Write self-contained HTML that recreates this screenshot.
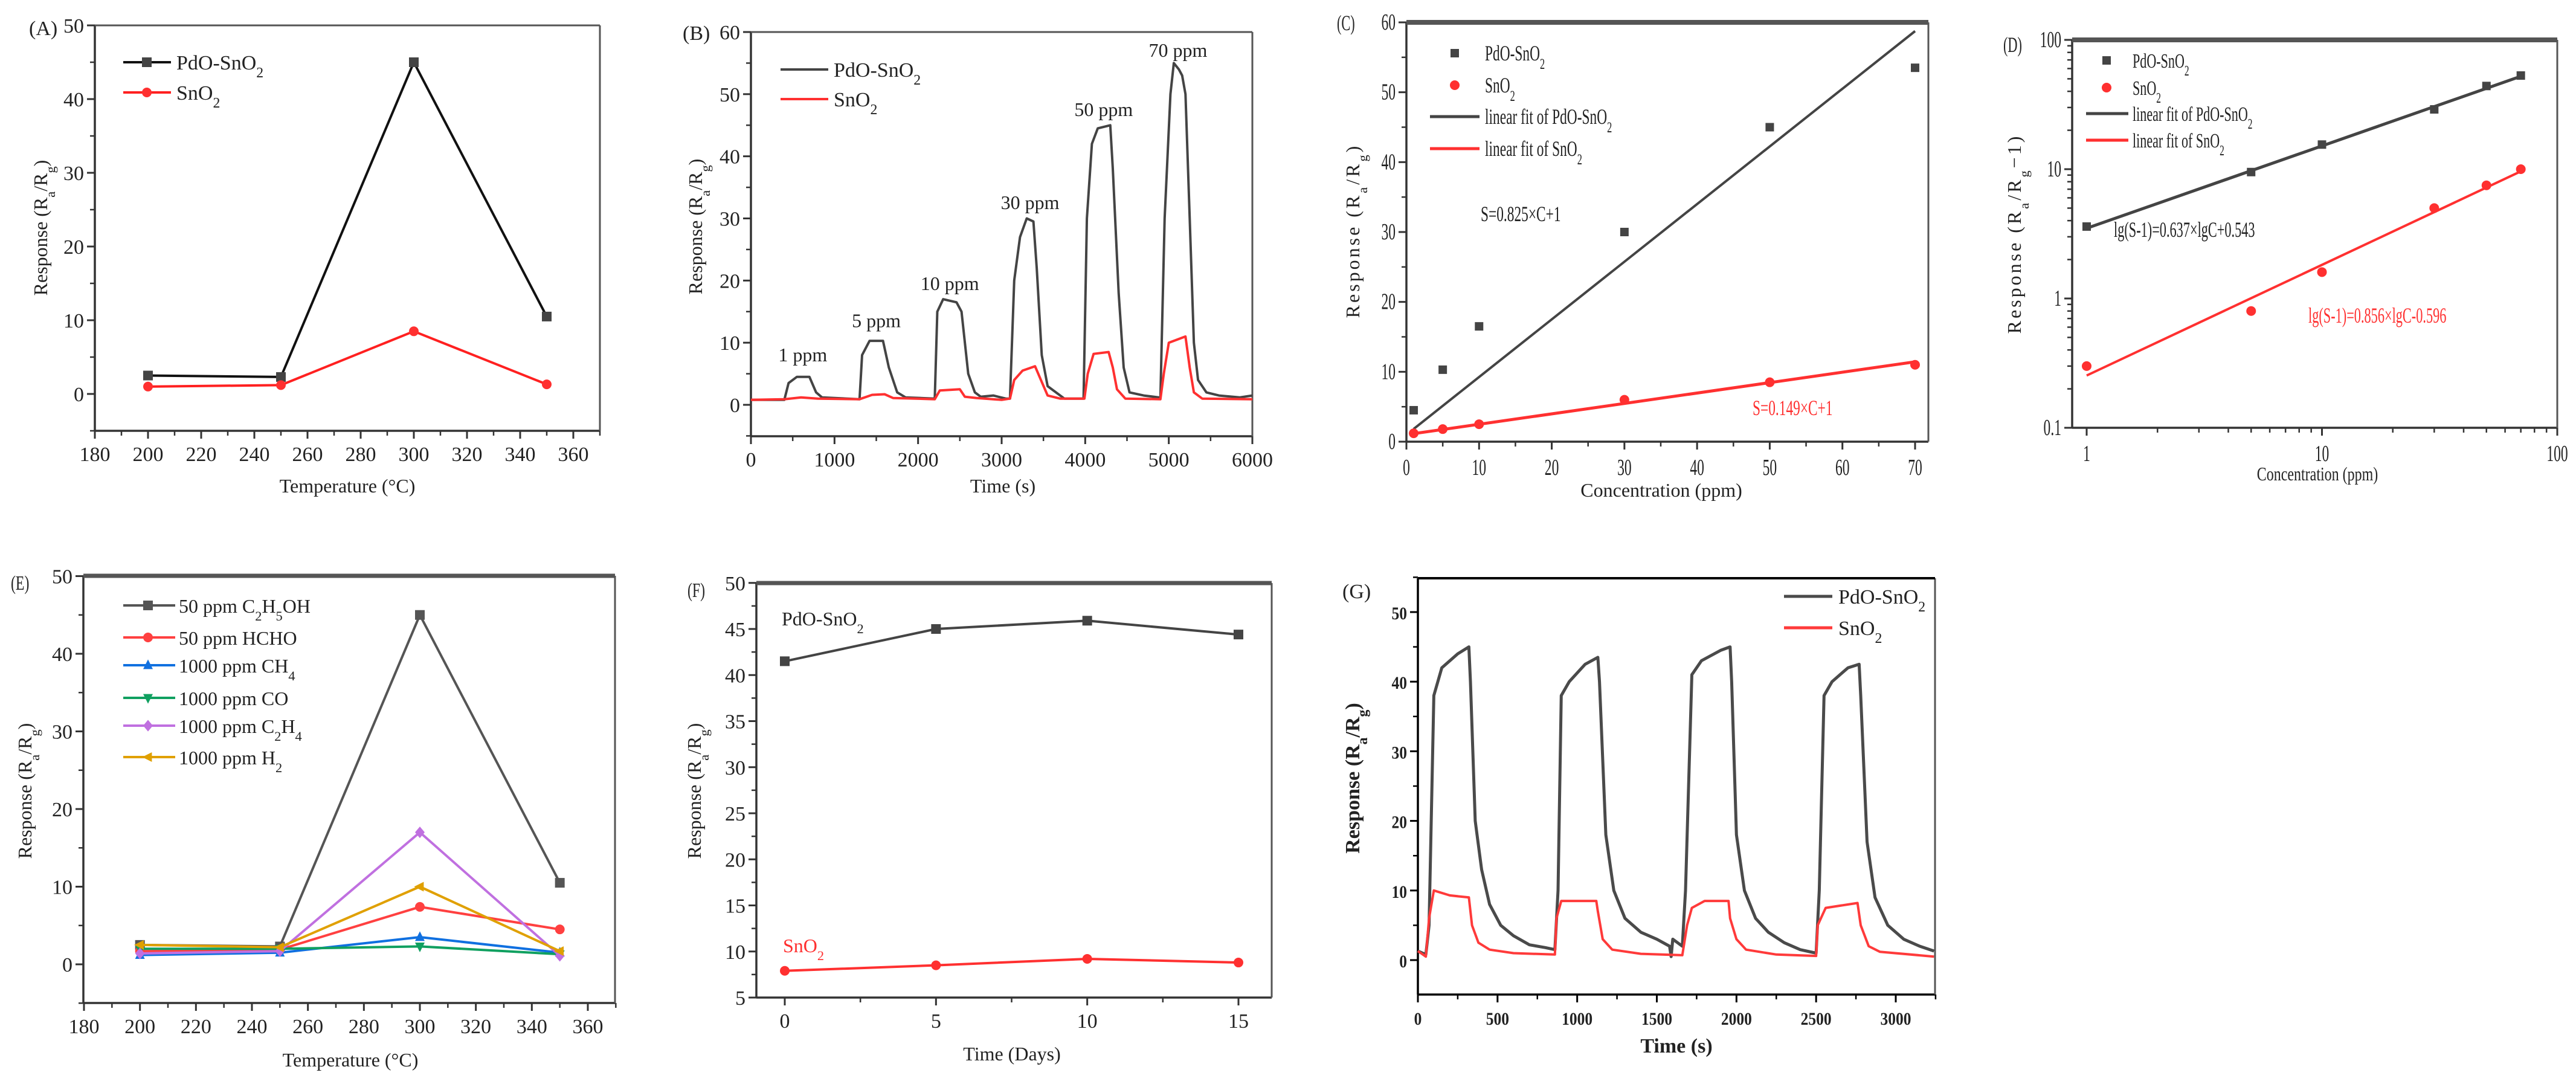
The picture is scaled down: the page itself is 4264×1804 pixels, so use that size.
<!DOCTYPE html>
<html><head><meta charset="utf-8"><style>
html,body{margin:0;padding:0;background:#fff;}
svg{display:block;font-family:"Liberation Serif",serif;}
</style></head><body>
<svg id="fig" xmlns="http://www.w3.org/2000/svg" width="4264" height="1804" viewBox="0 0 4264 1804"></svg>
<script>
// ---------- DATA ----------
const aTemps=[200,250,300,350];
const aPdO=[2.5,2.3,45,10.5];
const aSnO2=[1.0,1.2,8.5,1.3];
const aXTicks=[180,200,220,240,260,280,300,320,340,360];
const aYTicks=[0,10,20,30,40,50];

const bPdOTime=[0,400,450,550,700,780,850,1300,1330,1420,1580,1650,1750,1850,2200,2230,2300,2460,2520,2600,2680,2750,2900,3050,3100,3150,3220,3300,3380,3420,3480,3550,3650,3750,3980,4020,4080,4150,4300,4330,4400,4460,4530,4700,4880,4900,4950,5020,5060,5120,5160,5200,5250,5300,5350,5450,5600,5850,6000];
const bPdOVal=[0.8,0.8,3.5,4.5,4.5,2,1.2,0.9,8,10.3,10.3,6,2,1.2,1,15,17,16.5,15,5,2,1.3,1.5,1,1,20,27,30,29.5,22,8,3,2,1,1,30,42,44.5,45,38,18,6,2,1.5,1.2,1.2,30,50,55,54,53,50,30,10,4,2,1.5,1.2,1.5];
const bSnTime=[0,400,600,800,1300,1450,1600,1700,2200,2260,2500,2560,2700,3000,3100,3150,3250,3400,3470,3550,3700,3990,4030,4100,4280,4330,4380,4480,4900,4940,5000,5200,5250,5300,5400,6000];
const bSnVal=[0.8,0.9,1.2,1,0.9,1.6,1.7,1.1,0.9,2.3,2.5,1.3,1.1,0.8,1,4,5.5,6.2,4,1.5,1,1,5,8.2,8.5,6,2.5,1,0.9,5,10,11,6,2,1,0.9];
const bLabelTime=[620,1500,2380,3340,4220,5110];
const bLabelVal=[7,12.5,18.5,31.5,46.5,56];
const bLabels=["1 ppm","5 ppm","10 ppm","30 ppm","50 ppm","70 ppm"];
const bXTicks=[0,1000,2000,3000,4000,5000,6000];
const bYTicks=[0,10,20,30,40,50,60];

const cConc=[1,5,10,30,50,70];
const cPdO=[4.5,10.3,16.5,30,45,53.5];
const cSnO2=[1.2,1.8,2.5,6,8.5,11];
const cFitPdO=[0.825,1];
const cFitSnO2=[0.149,1];
const cXTicks=[0,10,20,30,40,50,60,70];
const cYTicks=[0,10,20,30,40,50,60];

const dConc=[1,5,10,30,50,70];
const dPdO=[3.6,9.5,15.5,29,44,53];
const dSnO2=[0.3,0.8,1.6,5,7.5,10];
const dFitPdO=[0.637,0.543];
const dFitSnO2=[0.856,-0.596];
const dXTicks=[1,10,100];
const dYTicks=[0.1,1,10,100];

const eTemps=[200,250,300,350];
const eEthanol=[2.5,2.3,45,10.5];
const eHCHO=[1.7,1.9,7.4,4.5];
const eCH4=[1.2,1.5,3.5,1.5];
const eCO=[2.0,2.0,2.3,1.3];
const eC2H4=[1.4,1.7,17,1.1];
const eH2=[2.5,2.2,10,1.7];
const eXTicks=[180,200,220,240,260,280,300,320,340,360];
const eYTicks=[0,10,20,30,40,50];

const fDays=[0,5,10,15];
const fPdO=[41.5,45,45.9,44.4];
const fSnO2=[7.9,8.5,9.2,8.8];
const fXTicks=[0,5,10,15];
const fYTicks=[5,10,15,20,25,30,35,40,45,50];

const gPdOTime=[0,50,70,100,150,250,320,330,360,400,450,520,600,700,800,860,880,900,950,1050,1130,1140,1180,1230,1300,1400,1500,1580,1590,1600,1660,1680,1720,1780,1900,1960,1970,2000,2050,2120,2200,2300,2400,2500,2520,2550,2600,2700,2770,2780,2820,2870,2950,3050,3150,3240];
const gPdOVal=[1.3,0.8,5,38,42,44,45,40,20,13,8,5,3.5,2.2,1.8,1.5,10,38,40,42.5,43.5,40,18,10,6,4,3,2,0.5,3,2,10,41,43,44.5,45,40,18,10,6,4,2.5,1.5,1,10,38,40,42,42.5,38,17,9,5,3,2,1.3];
const gSnTime=[0,50,70,100,200,320,340,380,450,600,860,870,900,1120,1130,1160,1220,1400,1660,1690,1720,1800,1950,1960,2000,2060,2250,2500,2510,2560,2760,2780,2830,2900,3240];
const gSnVal=[1.3,0.5,6,10,9.3,9,5,2.5,1.5,1,0.8,6,8.5,8.5,7,3,1.5,0.9,0.7,5,7.5,8.5,8.5,6,3,1.5,0.8,0.6,5,7.5,8.2,5,2,1.2,0.5];
const gXTicks=[0,500,1000,1500,2000,2500,3000];
const gYTicks=[0,10,20,30,40,50];

// ---------- HELPERS ----------
const NS='http://www.w3.org/2000/svg';
const svg=document.getElementById('fig');
function mk(parent,tag,attrs,name){
  const el=document.createElementNS(NS,tag);
  for(const k in attrs) el.setAttribute(k,attrs[k]);
  
  
  parent.appendChild(el);
  return el;
}
function lin(d0,d1,p0,p1){return v=>p0+(v-d0)*(p1-p0)/(d1-d0);}
function logS(d0,d1,p0,p1){return v=>p0+(Math.log10(v)-Math.log10(d0))*(p1-p0)/(Math.log10(d1)-Math.log10(d0));}
function sub(s){return s.replace(/_([0-9A-Za-z])/g,'<tspan baseline-shift="sub" font-size="70%">$1</tspan>');}
function txt(parent,x,y,s,o,name){
  o=o||{};
  const g=mk(parent,'g',{transform:'translate('+x+','+y+') scale('+(o.sq||1)+',1)'+(o.rot?' rotate('+o.rot+')':'')},name+'-group');
  const t=mk(g,'text',{x:0,y:0,'font-size':o.fs||34,'text-anchor':o.anchor||'start',fill:o.fill||'#222','font-weight':o.bold?'bold':'normal','letter-spacing':o.ls||0},name);
  t.innerHTML=sub(s);
  return t;
}
function path(parent,xs,ys,X,Y,stroke,w,name){
  let d='';
  for(let i=0;i<X.length;i++) d+=(i?'L':'M')+xs(X[i]).toFixed(1)+','+ys(Y[i]).toFixed(1);
  return mk(parent,'path',{d:d,fill:'none',stroke:stroke,'stroke-width':w,'stroke-linejoin':'round'},name);
}
function marker(parent,type,x,y,color,s,name){
  if(type==='sq') return mk(parent,'rect',{x:x-s,y:y-s,width:2*s,height:2*s,fill:color},name);
  if(type==='ci') return mk(parent,'circle',{cx:x,cy:y,r:s,fill:color},name);
  let pts;
  if(type==='up') pts=[[x,y-s*1.2],[x-s,y+s*0.8],[x+s,y+s*0.8]];
  if(type==='dn') pts=[[x,y+s*1.2],[x-s,y-s*0.8],[x+s,y-s*0.8]];
  if(type==='di') pts=[[x,y-s*1.2],[x+s,y],[x,y+s*1.2],[x-s,y]];
  if(type==='lt') pts=[[x-s*1.2,y],[x+s*0.8,y-s],[x+s*0.8,y+s]];
  return mk(parent,'polygon',{points:pts.map(p=>p.join(',')).join(' '),fill:color},name);
}
function frame(g,o){
  const c=o.col||'#333';
  mk(g,'line',{x1:o.L,y1:o.B,x2:o.R,y2:o.B,stroke:c,'stroke-width':3.5},'x-axis-line');
  mk(g,'line',{x1:o.L,y1:o.T,x2:o.L,y2:o.B,stroke:c,'stroke-width':3.5},'y-axis-line');
  mk(g,'line',{x1:o.R,y1:o.T,x2:o.R,y2:o.B,stroke:'#555','stroke-width':3},'right-border');
  mk(g,'line',{x1:o.L,y1:o.T,x2:o.R,y2:o.T,stroke:o.topC||'#555','stroke-width':o.topW||3},'top-border');
  o.xt.forEach(v=>{
    const x=o.xs(v);
    mk(g,'line',{x1:x,y1:o.B,x2:x,y2:o.B+13,stroke:c,'stroke-width':3},'x-tick');
    txt(g,x,o.B+(o.xlo||50),o.fmtX?o.fmtX(v):String(v),{fs:o.fs,anchor:'middle',sq:o.sq,bold:o.bold},'x-tick-label');
  });
  (o.xminor||[]).forEach(v=>{const x=o.xs(v);mk(g,'line',{x1:x,y1:o.B,x2:x,y2:o.B+8,stroke:c,'stroke-width':2.5},'x-minor-tick');});
  o.yt.forEach(v=>{
    const y=o.ys(v);
    mk(g,'line',{x1:o.L-13,y1:y,x2:o.L,y2:y,stroke:c,'stroke-width':3},'y-tick');
    txt(g,o.L-18,y+12,o.fmtY?o.fmtY(v):String(v),{fs:o.fs,anchor:'end',sq:o.sq,bold:o.bold},'y-tick-label');
  });
  (o.yminor||[]).forEach(v=>{const y=o.ys(v);mk(g,'line',{x1:o.L-8,y1:y,x2:o.L,y2:y,stroke:c,'stroke-width':2.5},'y-minor-tick');});
}
function range(a,b,s){const r=[];for(let v=a;v<=b+1e-9;v+=s) r.push(+v.toFixed(6));return r;}

// ---------- PANEL A ----------
(function(){
  const g=mk(svg,'g',{},'panel-a');
  const xs=lin(180,360,157,949), ys=lin(0,50,652,42);
  frame(g,{L:157,R:993,T:42,B:713,xs,ys,xt:aXTicks,xminor:range(190,370,20),yt:aYTicks,yminor:range(-5,45,10),fs:34});
  txt(g,48,58,'(A)',{fs:34},'panel-label-a');
  txt(g,575,815,'Temperature (°C)',{fs:32,anchor:'middle'},'x-axis-title');
  txt(g,78,377,'Response (R_a/R_g)',{fs:32,anchor:'middle',rot:-90},'y-axis-title');
  path(g,xs,ys,aTemps,aPdO,'#111',4,'line-pdo-sno2');
  path(g,xs,ys,aTemps,aSnO2,'#ff2020',4,'line-sno2');
  aTemps.forEach((t,i)=>marker(g,'sq',xs(t),ys(aPdO[i]),'#444',8,'point-pdo-sno2'));
  aTemps.forEach((t,i)=>marker(g,'ci',xs(t),ys(aSnO2[i]),'#ff3030',8,'point-sno2'));
  mk(g,'line',{x1:204,y1:103,x2:283,y2:103,stroke:'#111','stroke-width':4},'legend-line-pdo');
  marker(g,'sq',243,103,'#444',8,'legend-marker-pdo');
  txt(g,292,115,'PdO-SnO_2',{fs:34},'legend-label-pdo');
  mk(g,'line',{x1:204,y1:153,x2:283,y2:153,stroke:'#ff2020','stroke-width':4},'legend-line-sno2');
  marker(g,'ci',243,153,'#ff3030',8,'legend-marker-sno2');
  txt(g,292,165,'SnO_2',{fs:34},'legend-label-sno2');
})();

// ---------- PANEL B ----------
(function(){
  const g=mk(svg,'g',{},'panel-b');
  const xs=lin(0,6000,1243,2073), ys=lin(0,60,670,53);
  frame(g,{L:1243,R:2073,T:53,B:722,xs,ys,xt:bXTicks,xminor:range(500,5500,1000),yt:bYTicks,yminor:range(-5,55,10),fs:34});
  txt(g,1130,66,'(B)',{fs:34},'panel-label-b');
  txt(g,1660,815,'Time (s)',{fs:32,anchor:'middle'},'x-axis-title');
  txt(g,1162,375,'Response (R_a/R_g)',{fs:32,anchor:'middle',rot:-90},'y-axis-title');
  path(g,xs,ys,bPdOTime,bPdOVal,'#444',4,'line-pdo-sno2');
  path(g,xs,ys,bSnTime,bSnVal,'#ff3030',4,'line-sno2');
  bLabels.forEach((s,i)=>txt(g,xs(bLabelTime[i]),ys(bLabelVal[i]),s,{fs:32,anchor:'middle'},'concentration-label'));
  mk(g,'line',{x1:1292,y1:115,x2:1371,y2:115,stroke:'#444','stroke-width':4},'legend-line-pdo');
  txt(g,1380,127,'PdO-SnO_2',{fs:34},'legend-label-pdo');
  mk(g,'line',{x1:1292,y1:164,x2:1371,y2:164,stroke:'#ff3030','stroke-width':4},'legend-line-sno2');
  txt(g,1380,176,'SnO_2',{fs:34},'legend-label-sno2');
})();

// ---------- PANEL C ----------
(function(){
  const g=mk(svg,'g',{},'panel-c');
  const xs=lin(0,70,2328,3170), ys=lin(0,60,731,37);
  frame(g,{L:2328,R:3192,T:37,B:731,xs,ys,xt:cXTicks,xminor:range(5,65,10),yt:cYTicks,yminor:range(5,55,10),fs:38,sq:0.62,topW:8,xlo:55});
  txt(g,2213,50,'(C)',{fs:36,sq:0.62},'panel-label-c');
  txt(g,2750,822,'Concentration (ppm)',{fs:32,anchor:'middle'},'x-axis-title');
  txt(g,2250,382,'Response (R_a/R_g)',{fs:32,anchor:'middle',rot:-90,ls:4},'y-axis-title');
  path(g,xs,ys,[1,70],[cFitPdO[0]*1+cFitPdO[1],cFitPdO[0]*70+cFitPdO[1]],'#444',4,'fit-line-pdo');
  path(g,xs,ys,[1,70],[cFitSnO2[0]*1+cFitSnO2[1],cFitSnO2[0]*70+cFitSnO2[1]],'#ff3030',5,'fit-line-sno2');
  cConc.forEach((c,i)=>marker(g,'sq',xs(c),ys(cPdO[i]),'#444',7,'point-pdo-sno2'));
  cConc.forEach((c,i)=>marker(g,'ci',xs(c),ys(cSnO2[i]),'#ff3030',8,'point-sno2'));
  marker(g,'sq',2408,88,'#444',7,'legend-marker-pdo');
  txt(g,2458,100,'PdO-SnO_2',{fs:36,sq:0.65},'legend-label-pdo');
  marker(g,'ci',2408,141,'#ff3030',8,'legend-marker-sno2');
  txt(g,2458,153,'SnO_2',{fs:36,sq:0.65},'legend-label-sno2');
  mk(g,'line',{x1:2367,y1:193,x2:2449,y2:193,stroke:'#444','stroke-width':5},'legend-line-fit-pdo');
  txt(g,2458,205,'linear fit of PdO-SnO_2',{fs:36,sq:0.65},'legend-label-fit-pdo');
  mk(g,'line',{x1:2367,y1:246,x2:2449,y2:246,stroke:'#ff3030','stroke-width':5},'legend-line-fit-sno2');
  txt(g,2458,258,'linear fit of SnO_2',{fs:36,sq:0.65},'legend-label-fit-sno2');
  txt(g,2451,366,'S=0.825×C+1',{fs:36,sq:0.65},'equation-pdo');
  txt(g,2901,687,'S=0.149×C+1',{fs:36,sq:0.65,fill:'#ff3030'},'equation-sno2');
})();

// ---------- PANEL D ----------
(function(){
  const g=mk(svg,'g',{},'panel-d');
  const xs=logS(1,100,3454,4233), ys=logS(0.1,100,708,66);
  const xm=[],ym=[];
  [1,10].forEach(d=>{for(let k=2;k<=9;k++) xm.push(k*d);});
  [0.1,1,10].forEach(d=>{for(let k=2;k<=9;k++) ym.push(k*d);});
  frame(g,{L:3430,R:4233,T:66,B:708,xs,ys,xt:dXTicks,xminor:xm,yt:dYTicks,yminor:ym,fs:38,sq:0.62,topW:8,xlo:55});
  txt(g,3316,86,'(D)',{fs:36,sq:0.62},'panel-label-d');
  txt(g,3836,795,'Concentration (ppm)',{fs:32,anchor:'middle',sq:0.75},'x-axis-title');
  txt(g,3345,387,'Response (R_a/R_g−1)',{fs:32,anchor:'middle',rot:-90,ls:4},'y-axis-title');
  const fp=c=>Math.pow(10,dFitPdO[0]*Math.log10(c)+dFitPdO[1]);
  const fs_=c=>Math.pow(10,dFitSnO2[0]*Math.log10(c)+dFitSnO2[1]);
  path(g,xs,ys,[1,70],[fp(1),fp(70)],'#444',5,'fit-line-pdo');
  path(g,xs,ys,[1,70],[fs_(1),fs_(70)],'#ff3030',4,'fit-line-sno2');
  dConc.forEach((c,i)=>marker(g,'sq',xs(c),ys(dPdO[i]),'#444',7,'point-pdo-sno2'));
  dConc.forEach((c,i)=>marker(g,'ci',xs(c),ys(dSnO2[i]),'#ff3030',8,'point-sno2'));
  marker(g,'sq',3487,100,'#444',7,'legend-marker-pdo');
  txt(g,3530,112,'PdO-SnO_2',{fs:34,sq:0.65},'legend-label-pdo');
  marker(g,'ci',3487,145,'#ff3030',8,'legend-marker-sno2');
  txt(g,3530,157,'SnO_2',{fs:34,sq:0.65},'legend-label-sno2');
  mk(g,'line',{x1:3453,y1:188,x2:3523,y2:188,stroke:'#444','stroke-width':5},'legend-line-fit-pdo');
  txt(g,3530,200,'linear fit of PdO-SnO_2',{fs:34,sq:0.65},'legend-label-fit-pdo');
  mk(g,'line',{x1:3453,y1:232,x2:3523,y2:232,stroke:'#ff3030','stroke-width':5},'legend-line-fit-sno2');
  txt(g,3530,244,'linear fit of SnO_2',{fs:34,sq:0.65},'legend-label-fit-sno2');
  txt(g,3499,392,'lg(S-1)=0.637×lgC+0.543',{fs:36,sq:0.62},'equation-pdo');
  txt(g,3821,534,'lg(S-1)=0.856×lgC-0.596',{fs:36,sq:0.62,fill:'#ff3030'},'equation-sno2');
})();

// ---------- PANEL E ----------
(function(){
  const g=mk(svg,'g',{},'panel-e');
  const xs=lin(180,360,139,973), ys=lin(0,40,1596,1082);
  frame(g,{L:138,R:1018,T:953,B:1660,xs,ys,xt:eXTicks,xminor:range(190,370,20),yt:eYTicks,yminor:range(-5,45,10),fs:34,topW:7});
  txt(g,18,976,'(E)',{fs:34,sq:0.7},'panel-label-e');
  txt(g,580,1765,'Temperature (°C)',{fs:32,anchor:'middle'},'x-axis-title');
  txt(g,52,1309,'Response (R_a/R_g)',{fs:32,anchor:'middle',rot:-90},'y-axis-title');
  const series=[[eEthanol,'#555','sq','50 ppm C_2H_5OH'],[eHCHO,'#ff4040','ci','50 ppm HCHO'],[eCH4,'#1070e0','up','1000 ppm CH_4'],[eCO,'#10a060','dn','1000 ppm CO'],[eC2H4,'#c070e0','di','1000 ppm C_2H_4'],[eH2,'#e0a000','lt','1000 ppm H_2']];
  const legY=[1002,1055,1101,1155,1201,1253];
  series.forEach((s,k)=>{
    path(g,xs,ys,eTemps,s[0],s[1],4,'line-series-'+k);
    eTemps.forEach((t,i)=>marker(g,s[2],xs(t),ys(s[0][i]),s[1],8,'point-series-'+k));
    mk(g,'line',{x1:204,y1:legY[k],x2:290,y2:legY[k],stroke:s[1],'stroke-width':4},'legend-line');
    marker(g,s[2],245,legY[k],s[1],8,'legend-marker');
    txt(g,296,legY[k]+12,s[3],{fs:32},'legend-label');
  });
})();

// ---------- PANEL F ----------
(function(){
  const g=mk(svg,'g',{},'panel-f');
  const xs=lin(0,15,1299,2050), ys=lin(5,45,1651,1041);
  frame(g,{L:1252,R:2105,T:965,B:1651,xs,ys,xt:fXTicks,xminor:[2.5,7.5,12.5],yt:fYTicks,yminor:range(7.5,47.5,5),fs:34,topW:7});
  txt(g,1138,988,'(F)',{fs:34,sq:0.7},'panel-label-f');
  txt(g,1675,1755,'Time (Days)',{fs:32,anchor:'middle'},'x-axis-title');
  txt(g,1160,1309,'Response (R_a/R_g)',{fs:32,anchor:'middle',rot:-90},'y-axis-title');
  path(g,xs,ys,fDays,fPdO,'#444',4,'line-pdo-sno2');
  path(g,xs,ys,fDays,fSnO2,'#ff3030',4,'line-sno2');
  fDays.forEach((d,i)=>marker(g,'sq',xs(d),ys(fPdO[i]),'#444',8,'point-pdo-sno2'));
  fDays.forEach((d,i)=>marker(g,'ci',xs(d),ys(fSnO2[i]),'#ff3030',8,'point-sno2'));
  txt(g,1294,1035,'PdO-SnO_2',{fs:32},'series-label-pdo');
  txt(g,1296,1576,'SnO_2',{fs:32,fill:'#ff3030'},'series-label-sno2');
})();

// ---------- PANEL G ----------
(function(){
  const g=mk(svg,'g',{},'panel-g');
  const xs=lin(0,3000,2347,3138), ys=lin(0,50,1589,1013);
  frame(g,{L:2347,R:3203,T:957,B:1646,xs,ys,xt:gXTicks,xminor:range(250,3250,500),yt:gYTicks,yminor:range(5,55,10),fs:30,bold:true,sq:0.85,topW:4,topC:'#000',col:'#000'});
  txt(g,2222,990,'(G)',{fs:34},'panel-label-g');
  txt(g,2775,1742,'Time (s)',{fs:34,anchor:'middle',bold:true},'x-axis-title');
  txt(g,2250,1288,'Response (R_a/R_g)',{fs:34,anchor:'middle',rot:-90,bold:true},'y-axis-title');
  path(g,xs,ys,gPdOTime,gPdOVal,'#4a4a4a',5,'line-pdo-sno2');
  path(g,xs,ys,gSnTime,gSnVal,'#ff3a3a',4,'line-sno2');
  mk(g,'line',{x1:2953,y1:987,x2:3033,y2:987,stroke:'#4a4a4a','stroke-width':5},'legend-line-pdo');
  txt(g,3043,999,'PdO-SnO_2',{fs:34},'legend-label-pdo');
  mk(g,'line',{x1:2953,y1:1039,x2:3033,y2:1039,stroke:'#ff3a3a','stroke-width':5},'legend-line-sno2');
  txt(g,3043,1051,'SnO_2',{fs:34},'legend-label-sno2');
})();
</script>
</body></html>
